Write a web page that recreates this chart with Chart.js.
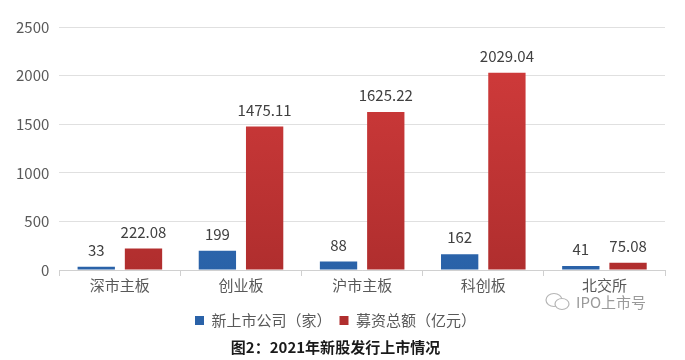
<!DOCTYPE html>
<html>
<head>
<meta charset="utf-8">
<script src="https://cdn.jsdelivr.net/npm/chart.js@4/dist/chart.umd.min.js"></script>
<style>
  html, body { margin: 0; padding: 0; background: #fff; }
  #wrap { position: relative; width: 685px; height: 360px; }
  #mark { position: absolute; left: 544px; top: 291px; color: #9a9a9a;
          font: 15px "Noto Sans CJK SC", sans-serif; display: flex; align-items: center; gap: 4px; }
</style>
</head>
<body>
<div id="wrap">
  <canvas id="ipoChart" width="685" height="360"></canvas>
  <div id="mark">
    <svg width="28" height="20" viewBox="0 0 28 20">
      <ellipse cx="10" cy="8" rx="8" ry="6.5" fill="none" stroke="#b5b5b5" stroke-width="1.2"/>
      <ellipse cx="18" cy="12" rx="7" ry="5.5" fill="#fff" stroke="#b5b5b5" stroke-width="1.2"/>
    </svg>
    <span>IPO上市号</span>
  </div>
</div>
<script>
const categories = ['深市主板', '创业板', '沪市主板', '科创板', '北交所'];
const newCompanies = [33, 199, 88, 162, 41];
const raisedFunds = [222.08, 1475.11, 1625.22, 2029.04, 75.08];
const yTicks = [0, 500, 1000, 1500, 2000, 2500];

const FONT = '"Noto Sans CJK SC", "Microsoft YaHei", sans-serif';

function barFill(top, bottom) {
     return function (context) {
          const area = context.chart.chartArea;
          if (!area) return top;
          const g = context.chart.ctx.createLinearGradient(0, area.top, 0, area.bottom);
          g.addColorStop(0, top);
          g.addColorStop(1, bottom);
          return g;
     };
}

// draws the value above each bar
const valueLabels = {
     id: 'valueLabels',
     afterDatasetsDraw(chart) {
          const ctx = chart.ctx;
          ctx.save();
          ctx.font = '15px ' + FONT;
          ctx.fillStyle = '#404040';
          ctx.textAlign = 'center';
          ctx.textBaseline = 'bottom';
          chart.data.datasets.forEach(function (ds, i) {
               chart.getDatasetMeta(i).data.forEach(function (bar, j) {
                    const v = ds.data[j];
                    const txt = Number.isInteger(v) ? String(v) : v.toFixed(2);
                    ctx.fillText(txt, bar.x, bar.y - 9);
               });
          });
          ctx.restore();
     }
};

document.addEventListener('DOMContentLoaded', function () {
     const ctx = document.getElementById('ipoChart').getContext('2d');
     new Chart(ctx, {
          type: 'bar',
          data: {
               labels: categories,
               datasets: [{
                    label: '新上市公司（家）',
                    data: newCompanies,
                    backgroundColor: barFill('#3677c2', '#2a62a8'),
                    categoryPercentage: 0.78,
                    barPercentage: 0.79
               }, {
                    label: '募资总额（亿元）',
                    data: raisedFunds,
                    backgroundColor: barFill('#d43c3c', '#b02e2e'),
                    categoryPercentage: 0.78,
                    barPercentage: 0.79
               }]
          },
          options: {
               responsive: false,
               animation: false,
               layout: { padding: { left: 6, right: 20, top: 27, bottom: 0 } },
               plugins: {
                    legend: {
                         position: 'bottom',
                         labels: {
                              color: '#595959',
                              font: { family: FONT, size: 15 },
                              boxWidth: 9,
                              boxHeight: 9,
                              padding: 8
                         }
                    },
                    title: {
                         display: true,
                         position: 'bottom',
                         text: '图2：2021年新股发行上市情况',
                         color: '#1a1a1a',
                         font: { family: FONT, size: 15, weight: 'bold' },
                         padding: { top: 0, bottom: 4 }
                    },
                    tooltip: { enabled: false }
               },
               scales: {
                    x: {
                         grid: {
                              offset: true,
                              drawOnChartArea: false,
                              color: '#d0d0d0',
                              tickLength: 6
                         },
                         border: { color: '#d0d0d0' },
                         ticks: {
                              color: '#595959',
                              font: { family: FONT, size: 15 },
                              padding: 0
                         },
                         afterFit: function (axis) { axis.height += 11; }
                    },
                    y: {
                         min: yTicks[0],
                         max: yTicks[yTicks.length - 1],
                         afterBuildTicks: function (axis) {
                              axis.ticks = yTicks.map(function (v) { return { value: v }; });
                         },
                         grid: { color: '#e0e0e0', drawTicks: false },
                         border: { display: false },
                         ticks: {
                              color: '#595959',
                              font: { family: FONT, size: 15 },
                              padding: 10,
                              callback: function (v) { return String(v); }
                         }
                    }
               }
          },
          plugins: [valueLabels]
     });
});
</script>
</body>
</html>
